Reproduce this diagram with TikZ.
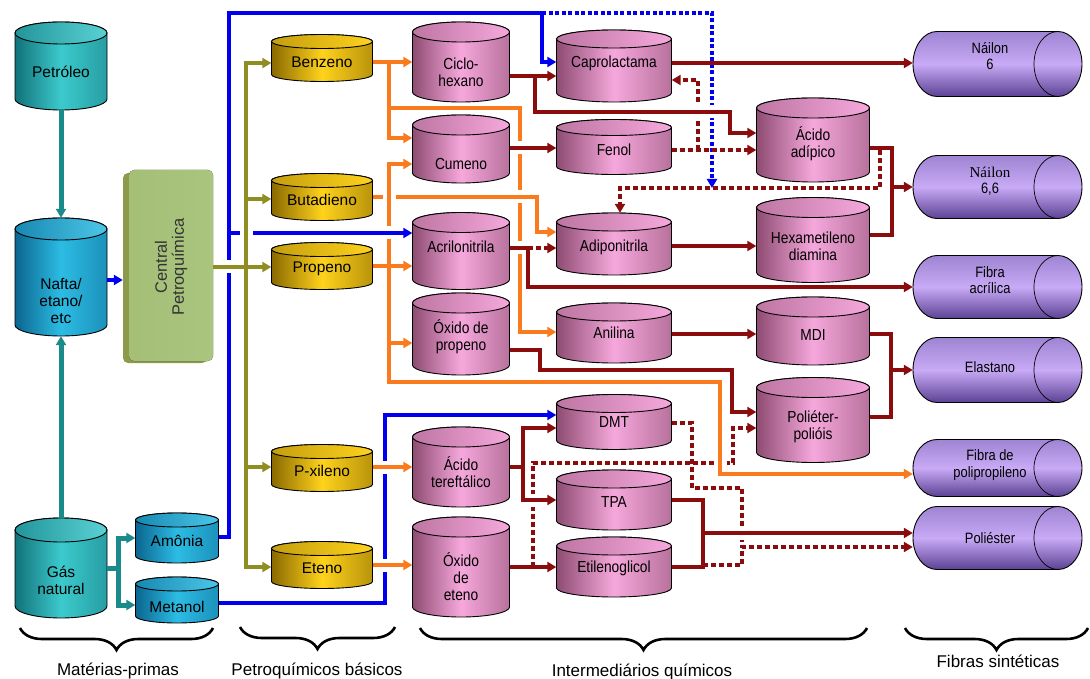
\documentclass[tikz,border=0pt]{standalone}
\usepackage{fontspec}
\setmainfont{Liberation Sans}
\newfontfamily\condfont[FakeStretch=0.86]{Liberation Sans}
\newfontfamily\serifnode{Liberation Serif}
\usetikzlibrary{arrows.meta,decorations.pathreplacing}

\definecolor{tealD}{HTML}{11727A}
\definecolor{tealL}{HTML}{3CCACC}
\definecolor{cyanD}{HTML}{0B6690}
\definecolor{cyanL}{HTML}{2CBCE4}
\definecolor{goldD}{HTML}{8A6A00}
\definecolor{goldL}{HTML}{FFD21C}
\definecolor{pinkD}{HTML}{8E4C72}
\definecolor{pinkL}{HTML}{F6A8DC}
\definecolor{purD}{HTML}{5C4294}
\definecolor{purM}{HTML}{9E84D2}
\definecolor{purL}{HTML}{C8AAF6}
\definecolor{lnTeal}{HTML}{1A8A8A}
\definecolor{lnBlue}{HTML}{0000EE}
\definecolor{lnOlive}{HTML}{8E8E22}
\definecolor{lnOrange}{HTML}{FA7A1E}
\definecolor{lnBrown}{HTML}{8A0C0C}
\definecolor{boxG}{HTML}{A9C57E}
\definecolor{boxS}{HTML}{8C9A4C}

\tikzset{
  every node/.style={inner sep=0pt},
  >={Triangle[length=9pt,width=10pt]},
  tealln/.style={line width=5pt, draw=lnTeal},
  blueln/.style={line width=4pt, draw=lnBlue},
  bluedot/.style={line width=4.5pt, draw=lnBlue, dash pattern=on 4pt off 2.5pt},
  olivln/.style={line width=4pt, draw=lnOlive},
  oraln/.style={line width=4pt, draw=lnOrange},
  brnln/.style={line width=4pt, draw=lnBrown},
  brndot/.style={line width=4.5pt, draw=lnBrown, dash pattern=on 5pt off 3pt},
  teal body/.style={left color=tealD, right color=tealD!50!tealL, middle color=tealL},
  teal top/.style={left color=tealD!60!tealL, right color=tealL!85!white},
  cyan body/.style={left color=cyanD, right color=cyanD!50!cyanL, middle color=cyanL},
  cyan top/.style={left color=cyanD!60!cyanL, right color=cyanL!85!white},
  gold body/.style={left color=goldD, right color=goldD!60!goldL, middle color=goldL},
  gold top/.style={left color=goldD!50!goldL, right color=goldL},
  pink body/.style={left color=pinkD, right color=pinkD!60!pinkL, middle color=pinkL},
  pink top/.style={left color=pinkD!55!pinkL, right color=pinkL},
  teal text/.style={font=\fontsize{15.5}{17}\selectfont},
  cyan text/.style={font=\fontsize{15.5}{17}\selectfont},
  gold text/.style={font=\fontsize{15.5}{17}\selectfont},
  pink text/.style={font=\condfont\fontsize{16}{17}\selectfont},
  pur text/.style={font=\condfont\fontsize{15}{16.5}\selectfont},
  lbl/.style={font=\fontsize{17}{19}\selectfont, anchor=base},
  bracest/.style={decorate, decoration={brace, mirror, amplitude=22pt}, line width=2.6pt},
}

% vertical cylinder: style, name, cx, cy, w, h, ry, text dy, text
\newcommand\vcyl[9]{%
  \pgfmathsetmacro\cL{#3-#5/2}%
  \pgfmathsetmacro\cR{#3+#5/2}%
  \pgfmathsetmacro\cTe{-#4+#6/2-#7}%
  \pgfmathsetmacro\cBe{-#4-#6/2+#7}%
  \pgfmathsetmacro\crx{#5/2}%
  \pgfmathsetmacro\cty{-#4-(#8)}%
  \path[draw=black, line width=0.9pt, #1 body] (\cL,\cTe) -- (\cL,\cBe)
     arc[start angle=180, end angle=360, x radius=\crx, y radius=#7] -- (\cR,\cTe)
     arc[start angle=0, end angle=180, x radius=\crx, y radius=#7] -- cycle;
  \path[draw=black, line width=0.9pt, #1 top] (#3,\cTe) ellipse [x radius=\crx, y radius=#7];
  \node[minimum width=#5pt, minimum height=#6pt] (#2) at (#3,-#4) {};
  \node[#1 text, align=center] at (#3,\cty) {#9};
}

% horizontal cylinder: name, cy, h, text dy, text
\newcommand\hcyl[5]{%
  \pgfmathsetmacro\hT{-#2+#3/2}%
  \pgfmathsetmacro\hB{-#2-#3/2}%
  \pgfmathsetmacro\hry{#3/2}%
  \pgfmathsetmacro\hty{-#2-(#4)}%
  \path[draw=black, line width=0.9pt, top color=purM, bottom color=purD, middle color=purL]
     (937,\hT) -- (1058,\hT) arc[start angle=90, end angle=-90, x radius=24, y radius=\hry]
     -- (937,\hB) arc[start angle=270, end angle=90, x radius=24, y radius=\hry] -- cycle;
  \draw[line width=0.7pt] (1058,\hT) arc[start angle=90, end angle=270, x radius=24, y radius=\hry];
  \node[minimum width=169pt, minimum height=#3pt] (#1) at (997.5,-#2) {};
  \node[pur text, align=center] at (990,\hty) {#5};
}

% crossings: over line horizontal / vertical at (x,y)
\newcommand\xh[3]{\fill[white] ({#1-3.5},{-#2-6.5}) rectangle ({#1+3.5},{-#2+6.5}); \draw[#3] ({#1-4.5},-#2) -- ({#1+4.5},-#2);}
\newcommand\xv[3]{\fill[white] ({#1-6.5},{-#2-3.5}) rectangle ({#1+6.5},{-#2+3.5}); \draw[#3] (#1,{-#2-4.5}) -- (#1,{-#2+4.5});}

\begin{document}
\begin{tikzpicture}[x=1pt, y=1pt]
\useasboundingbox (0,0) rectangle (1090,-679);
\fill[white] (0,0) rectangle (1090,-679);

\coordinate (gj) at (118,-568);
\coordinate (bA) at (229,-537);
\coordinate (bT) at (542,-13);
\coordinate (bdot) at (712,-188);

% ---------- nodes ----------
\vcyl{teal}{petro}{61}{66}{92}{88}{11}{6}{Petróleo}
\vcyl{cyan}{nafta}{61}{277}{92}{118}{11}{24}{Nafta/\\etano/\\etc}
\vcyl{teal}{gas}{61}{568}{92}{100}{12}{12}{Gás\\natural}
\vcyl{cyan}{amonia}{177}{538}{83}{50}{7}{3}{Amônia}
\vcyl{cyan}{metanol}{177}{600}{83}{46}{7}{7}{Metanol}

\fill[boxS, rounded corners=5pt] (123,-173) rectangle (207,-363);
\fill[left color=boxG!85!boxS, right color=boxG, rounded corners=5pt] (129,-170) rectangle (213,-361);
\node[minimum width=90pt, minimum height=193pt] (central) at (168,-267) {};
\node[rotate=90, align=center, font=\fontsize{16.5}{17}\selectfont, text=black!80] at (171,-267) {Central\\Petroquímica};

\vcyl{gold}{benz}{322}{58}{101}{47}{7}{4}{Benzeno}
\vcyl{gold}{buta}{322}{197}{101}{47}{7}{3}{Butadieno}
\vcyl{gold}{prop}{322}{266}{101}{47}{7}{3}{Propeno}
\vcyl{gold}{pxil}{322}{468}{101}{47}{7}{3}{P-xileno}
\vcyl{gold}{eten}{322}{565}{101}{47}{7}{3}{Eteno}

\vcyl{pink}{ciclo}{461}{62}{97}{80}{10}{10}{Ciclo-\\hexano}
\vcyl{pink}{cumeno}{461}{149}{97}{68}{10}{15}{Cumeno}
\vcyl{pink}{acril}{461}{251}{97}{77}{10}{-4}{Acrilonitrila}
\vcyl{pink}{oxprop}{461}{334}{97}{82}{10}{3}{Óxido de\\propeno}
\vcyl{pink}{actere}{461}{467}{97}{80}{10}{5}{Ácido\\tereftálico}
\vcyl{pink}{oxeten}{461}{567}{97}{100}{10}{10}{Óxido\\de\\eteno}

\vcyl{pink}{capro}{614}{66}{115}{72}{9}{-3}{Caprolactama}
\vcyl{pink}{fenol}{614}{147}{115}{55}{8}{3}{Fenol}
\vcyl{pink}{adipon}{614}{244}{115}{62}{9}{3}{Adiponitrila}
\vcyl{pink}{anil}{614}{333}{115}{60}{9}{0}{Anilina}
\vcyl{pink}{dmt}{614}{422}{115}{55}{9}{0}{DMT}
\vcyl{pink}{tpa}{614}{500}{115}{60}{9}{2}{TPA}
\vcyl{pink}{etil}{614}{567}{115}{60}{9}{1}{Etilenoglicol}

\vcyl{pink}{acadip}{813}{140}{113}{84}{10}{4}{Ácido\\adípico}
\vcyl{pink}{hexa}{813}{240}{113}{85}{10}{6}{Hexametileno\\diamina}
\vcyl{pink}{mdi}{813}{331}{113}{68}{10}{4}{MDI}
\vcyl{pink}{polieter}{813}{420}{113}{85}{10}{7}{Poliéter-\\polióis}

\hcyl{n6}{64}{65}{-8}{Náilon\\6}
\hcyl{n66}{187}{63}{-6}{\serifnode Náilon\\6,6}
\hcyl{facr}{287}{63}{-7}{Fibra\\acrílica}
\hcyl{elast}{370}{65}{-3}{Elastano}
\hcyl{fpp}{468}{57}{-3}{Fibra de\\polipropileno}
\hcyl{poliest}{538}{63}{0}{Poliéster}

% ---------- teal ----------
\draw[tealln,->] (petro.south) -- (nafta.north);
\draw[tealln,->] (gas.north) -- (nafta.south);
\draw[tealln] (gas.east) -- (gj);
\draw[tealln,->] (gj) |- (amonia.west |- 0,-538);
\draw[tealln,->] (gj) |- (metanol.west |- 0,-605);

% ---------- blue ----------
\draw[blueln,->] (nafta.east |- 0,-280) -- (central.west |- 0,-280);
\draw[blueln,->] (amonia.east |- bA) -- (bA) -- (229,-13) -- (bT) -- (542,-62) -- (capro.west |- 0,-62);
\draw[blueln,->] (229,-233) -- (acril.west |- 0,-233);
\draw[bluedot,->] (bT) -- (712,-13) -- (bdot);
\draw[blueln,->] (metanol.east |- 0,-603) -- (385,-603) -- (385,-415) -- (dmt.west |- 0,-415);

% ---------- olive ----------
\draw[olivln,<->] (benz.west |- 0,-63) -- (246,-63) -- (246,-567) -- (eten.west |- 0,-567);
\draw[olivln,->] (246,-199) -- (buta.west |- 0,-199);
\draw[olivln,->] (central.east |- 0,-267) -- (prop.west |- 0,-267);
\draw[olivln,->] (246,-467) -- (pxil.west |- 0,-467);

% ---------- orange ----------
\draw[oraln,->] (benz.east |- 0,-62) -- (ciclo.west |- 0,-62);
\draw[oraln,->] (389,-62) -- (389,-138) -- (cumeno.west |- 0,-138);
\draw[oraln,->] (389,-108) -- (520,-108) -- (520,-332) -- (anil.west |- 0,-332);
\draw[oraln,->] (buta.east |- 0,-197) -- (537,-197) -- (537,-232) -- (adipon.west |- 0,-232);
\draw[oraln,->] (prop.east |- 0,-266) -- (acril.west |- 0,-266);
\draw[oraln,->] (389,-266) -- (389,-164) -- (cumeno.west |- 0,-164);
\draw[oraln,->] (389,-266) -- (389,-343) -- (oxprop.west |- 0,-343);
\draw[oraln,->] (389,-343) -- (389,-382) -- (720,-382) -- (720,-474) -- (fpp.west |- 0,-474);
\draw[oraln,->] (pxil.east |- 0,-467) -- (actere.west |- 0,-467);
\draw[oraln,->] (eten.east |- 0,-565) -- (oxeten.west |- 0,-565);

% ---------- brown solid ----------
\draw[brnln,->] (ciclo.east |- 0,-76) -- (capro.west |- 0,-76);
\draw[brnln,->] (535,-76) -- (535,-112) -- (730,-112) -- (730,-133) -- (acadip.west |- 0,-133);
\draw[brnln,->] (cumeno.east |- 0,-148) -- (fenol.west |- 0,-148);
\draw[brnln,->] (capro.east |- 0,-63) -- (n6.west |- 0,-63);
\draw[brnln] (acril.east |- 0,-248) -- (528,-248);
\draw[brnln,->] (528,-248) -- (528,-287) -- (facr.west |- 0,-287);
\draw[brnln,->] (adipon.east |- 0,-246) -- (hexa.west |- 0,-246);
\draw[brnln] (acadip.east |- 0,-148) -- (892,-148) -- (892,-235) -- (hexa.east |- 0,-235);
\draw[brnln,->] (892,-187) -- (n66.west |- 0,-187);
\draw[brnln,->] (anil.east |- 0,-334) -- (mdi.west |- 0,-334);
\draw[brnln] (mdi.east |- 0,-334) -- (891,-334) -- (891,-417) -- (polieter.east |- 0,-417);
\draw[brnln,->] (891,-370) -- (elast.west |- 0,-370);
\draw[brnln,->] (oxprop.east |- 0,-350) -- (540,-350) -- (540,-370) -- (732,-370) -- (732,-412) -- (polieter.west |- 0,-412);
\draw[brnln] (actere.east |- 0,-467) -- (523,-467);
\draw[brnln,<->] (dmt.west |- 0,-428) -- (523,-428) -- (523,-500) -- (tpa.west |- 0,-500);
\draw[brnln,->] (oxeten.east |- 0,-567) -- (etil.west |- 0,-567);
\draw[brnln] (tpa.east |- 0,-500) -- (703,-500) -- (703,-567) -- (etil.east |- 0,-567);
\draw[brnln,->] (703,-533) -- (poliest.west |- 0,-533);

% ---------- brown dotted ----------
\draw[brndot,->] (fenol.east |- 0,-150) -- (acadip.west |- 0,-150);
\draw[brndot,->] (698,-150) -- (698,-80) -- (capro.east |- 0,-80);
\draw[brndot,->] (880,-150) -- (880,-188) -- (620,-188) -- (adipon.north -| 620,0);
\draw[brndot,->] (528,-248) -- (adipon.west |- 0,-248);
\draw[brndot,->] (533,-567) -- (533,-463) -- (733,-463) -- (733,-428) -- (polieter.west |- 0,-428);
\draw[brndot] (dmt.east |- 0,-423) -- (692,-423) -- (692,-488) -- (742,-488) -- (742,-547);
\draw[brndot,->] (703,-565) -- (742,-565) -- (742,-547) -- (poliest.west |- 0,-547);

% ---------- crossings ----------
\xh{229}{267}{olivln}
\xv{246}{233}{olivln}
\xv{389}{197}{oraln}
\xh{389}{233}{blueln}
\xh{520}{148}{brnln}
\xh{520}{197}{oraln}
\xh{520}{248}{brnln}
\xh{385}{467}{oraln}
\xh{385}{565}{oraln}
\xv{720}{463}{oraln}
\xh{533}{500}{brnln}
\xh{742}{533}{brnln}
\xh{712}{112}{brnln}
\xh{698}{112}{brnln}

% ---------- braces & labels ----------
\draw[bracest] (20,-628) -- (213,-628);
\draw[bracest] (240,-627) -- (395,-627);
\draw[bracest] (420,-628) -- (867,-628);
\draw[bracest] (905,-628) -- (1088,-628);
\node[lbl] at (118,-675) {Matérias-primas};
\node[lbl] at (317,-675) {Petroquímicos básicos};
\node[lbl] at (642,-676) {Intermediários químicos};
\node[lbl] at (998,-667) {Fibras sintéticas};
\end{tikzpicture}
\end{document}
